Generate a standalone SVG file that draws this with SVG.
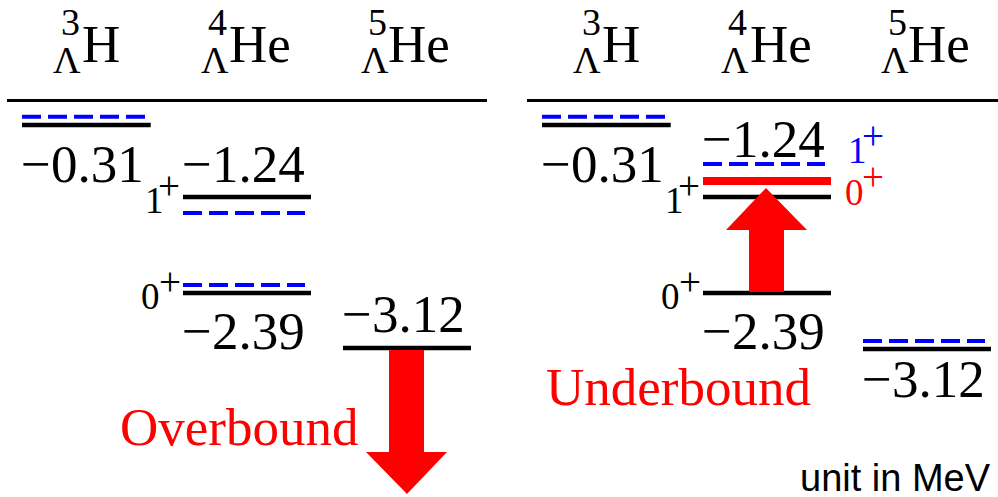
<svg xmlns="http://www.w3.org/2000/svg" width="998" height="497" viewBox="0 0 998 497">
<style>
.t{font-family:"Liberation Serif","Times New Roman",serif;fill:#000}
.big{font-size:53px}
.sub{font-size:38px}
.val{font-size:53px}
.sm{font-size:37px}
.pl{font-size:39px}
.red{fill:#ff0000}
.blu{fill:#0000ff}
.axis{stroke:#000;stroke-width:3}
.lv{stroke:#000;stroke-width:4.5}
.dash{stroke:#0000ff;stroke-width:4;stroke-dasharray:19 7}
.rlv{stroke:#ff0000;stroke-width:8}
.arrow{fill:#ff0000}
</style>
<rect width="998" height="497" fill="#fff"/>

<g id="headers">
  <line class="axis" x1="7" y1="100.5" x2="487" y2="100.5"/>
  <line class="axis" x1="527" y1="100.5" x2="998" y2="100.5"/>
  <text class="t sub" x="61" y="35">3</text><text class="t sub" x="53" y="73">Λ</text><text class="t big" x="82" y="62">H</text>
  <text class="t sub" x="208" y="35">4</text><text class="t sub" x="201" y="73">Λ</text><text class="t big" x="229" y="62">He</text>
  <text class="t sub" x="368" y="35">5</text><text class="t sub" x="361" y="73">Λ</text><text class="t big" x="388" y="62">He</text>
  <text class="t sub" x="582" y="35">3</text><text class="t sub" x="573" y="73">Λ</text><text class="t big" x="602" y="62">H</text>
  <text class="t sub" x="728" y="35">4</text><text class="t sub" x="721" y="73">Λ</text><text class="t big" x="750" y="62">He</text>
  <text class="t sub" x="888" y="35">5</text><text class="t sub" x="881" y="73">Λ</text><text class="t big" x="908" y="62">He</text>
</g>

<g id="left-H3">
  <line class="dash" x1="22" y1="116.7" x2="145" y2="116.7"/>
  <line class="lv" x1="22" y1="125" x2="150.7" y2="125"/>
  <text class="t val" x="21" y="182">−0.31</text>
</g>

<g id="left-He4">
  <text class="t val" x="182" y="182">−1.24</text>
  <line class="lv" x1="183" y1="197" x2="311" y2="197"/>
  <line class="dash" x1="183" y1="213" x2="305" y2="213"/>
  <text class="t sm" x="145" y="213">1</text><text class="t pl" x="158" y="199">+</text>
  <line class="dash" x1="183" y1="285" x2="305" y2="285"/>
  <line class="lv" x1="183" y1="293" x2="311" y2="293"/>
  <text class="t sm" x="141" y="309">0</text><text class="t pl" x="159" y="295">+</text>
  <text class="t val" x="182" y="349">−2.39</text>
</g>

<g id="left-He5">
  <text class="t val" x="342" y="332">−3.12</text>
  <line class="lv" x1="343" y1="348" x2="471" y2="348"/>
  <text class="t val red" x="120" y="445">Overbound</text>
</g>

<g id="right-H3">
  <line class="dash" x1="542" y1="116.7" x2="665" y2="116.7"/>
  <line class="lv" x1="542" y1="125" x2="670.7" y2="125"/>
  <text class="t val" x="541" y="182">−0.31</text>
</g>

<g id="right-He4">
  <text class="t val" x="702" y="157">−1.24</text>
  <line class="dash" x1="703" y1="164" x2="825" y2="164"/>
  <line class="rlv" x1="703" y1="181" x2="831" y2="181"/>
  <line class="lv" x1="703" y1="197" x2="831" y2="197"/>
  <text class="t sm" x="665" y="213">1</text><text class="t pl" x="678" y="199">+</text>
  <text class="t sm blu" x="848" y="163">1</text><text class="t pl blu" x="862" y="149">+</text>
  <text class="t sm red" x="845" y="205">0</text><text class="t pl red" x="862" y="190">+</text>
  <line class="lv" x1="703" y1="293" x2="831" y2="293"/>
  <text class="t sm" x="661" y="309">0</text><text class="t pl" x="679" y="295">+</text>
  <text class="t val" x="702" y="349">−2.39</text>
  <text class="t val red" x="546" y="405">Underbound</text>
</g>

<g id="right-He5">
  <line class="dash" x1="863" y1="341" x2="985" y2="341"/>
  <line class="lv" x1="863" y1="349" x2="991" y2="349"/>
  <text class="t val" x="862" y="397">−3.12</text>
</g>

<g id="connectors">
  <polygon class="arrow" points="389,350 424,350 424,452 447,452 407,494 366,452 389,452"/>
  <polygon class="arrow" points="749,292 784,292 784,230 807,230 766,188 726,230 749,230"/>
</g>

<text x="800" y="491" style="font-family:'Liberation Sans',Arial,sans-serif;font-size:38px" fill="#000">unit in MeV</text>
</svg>
